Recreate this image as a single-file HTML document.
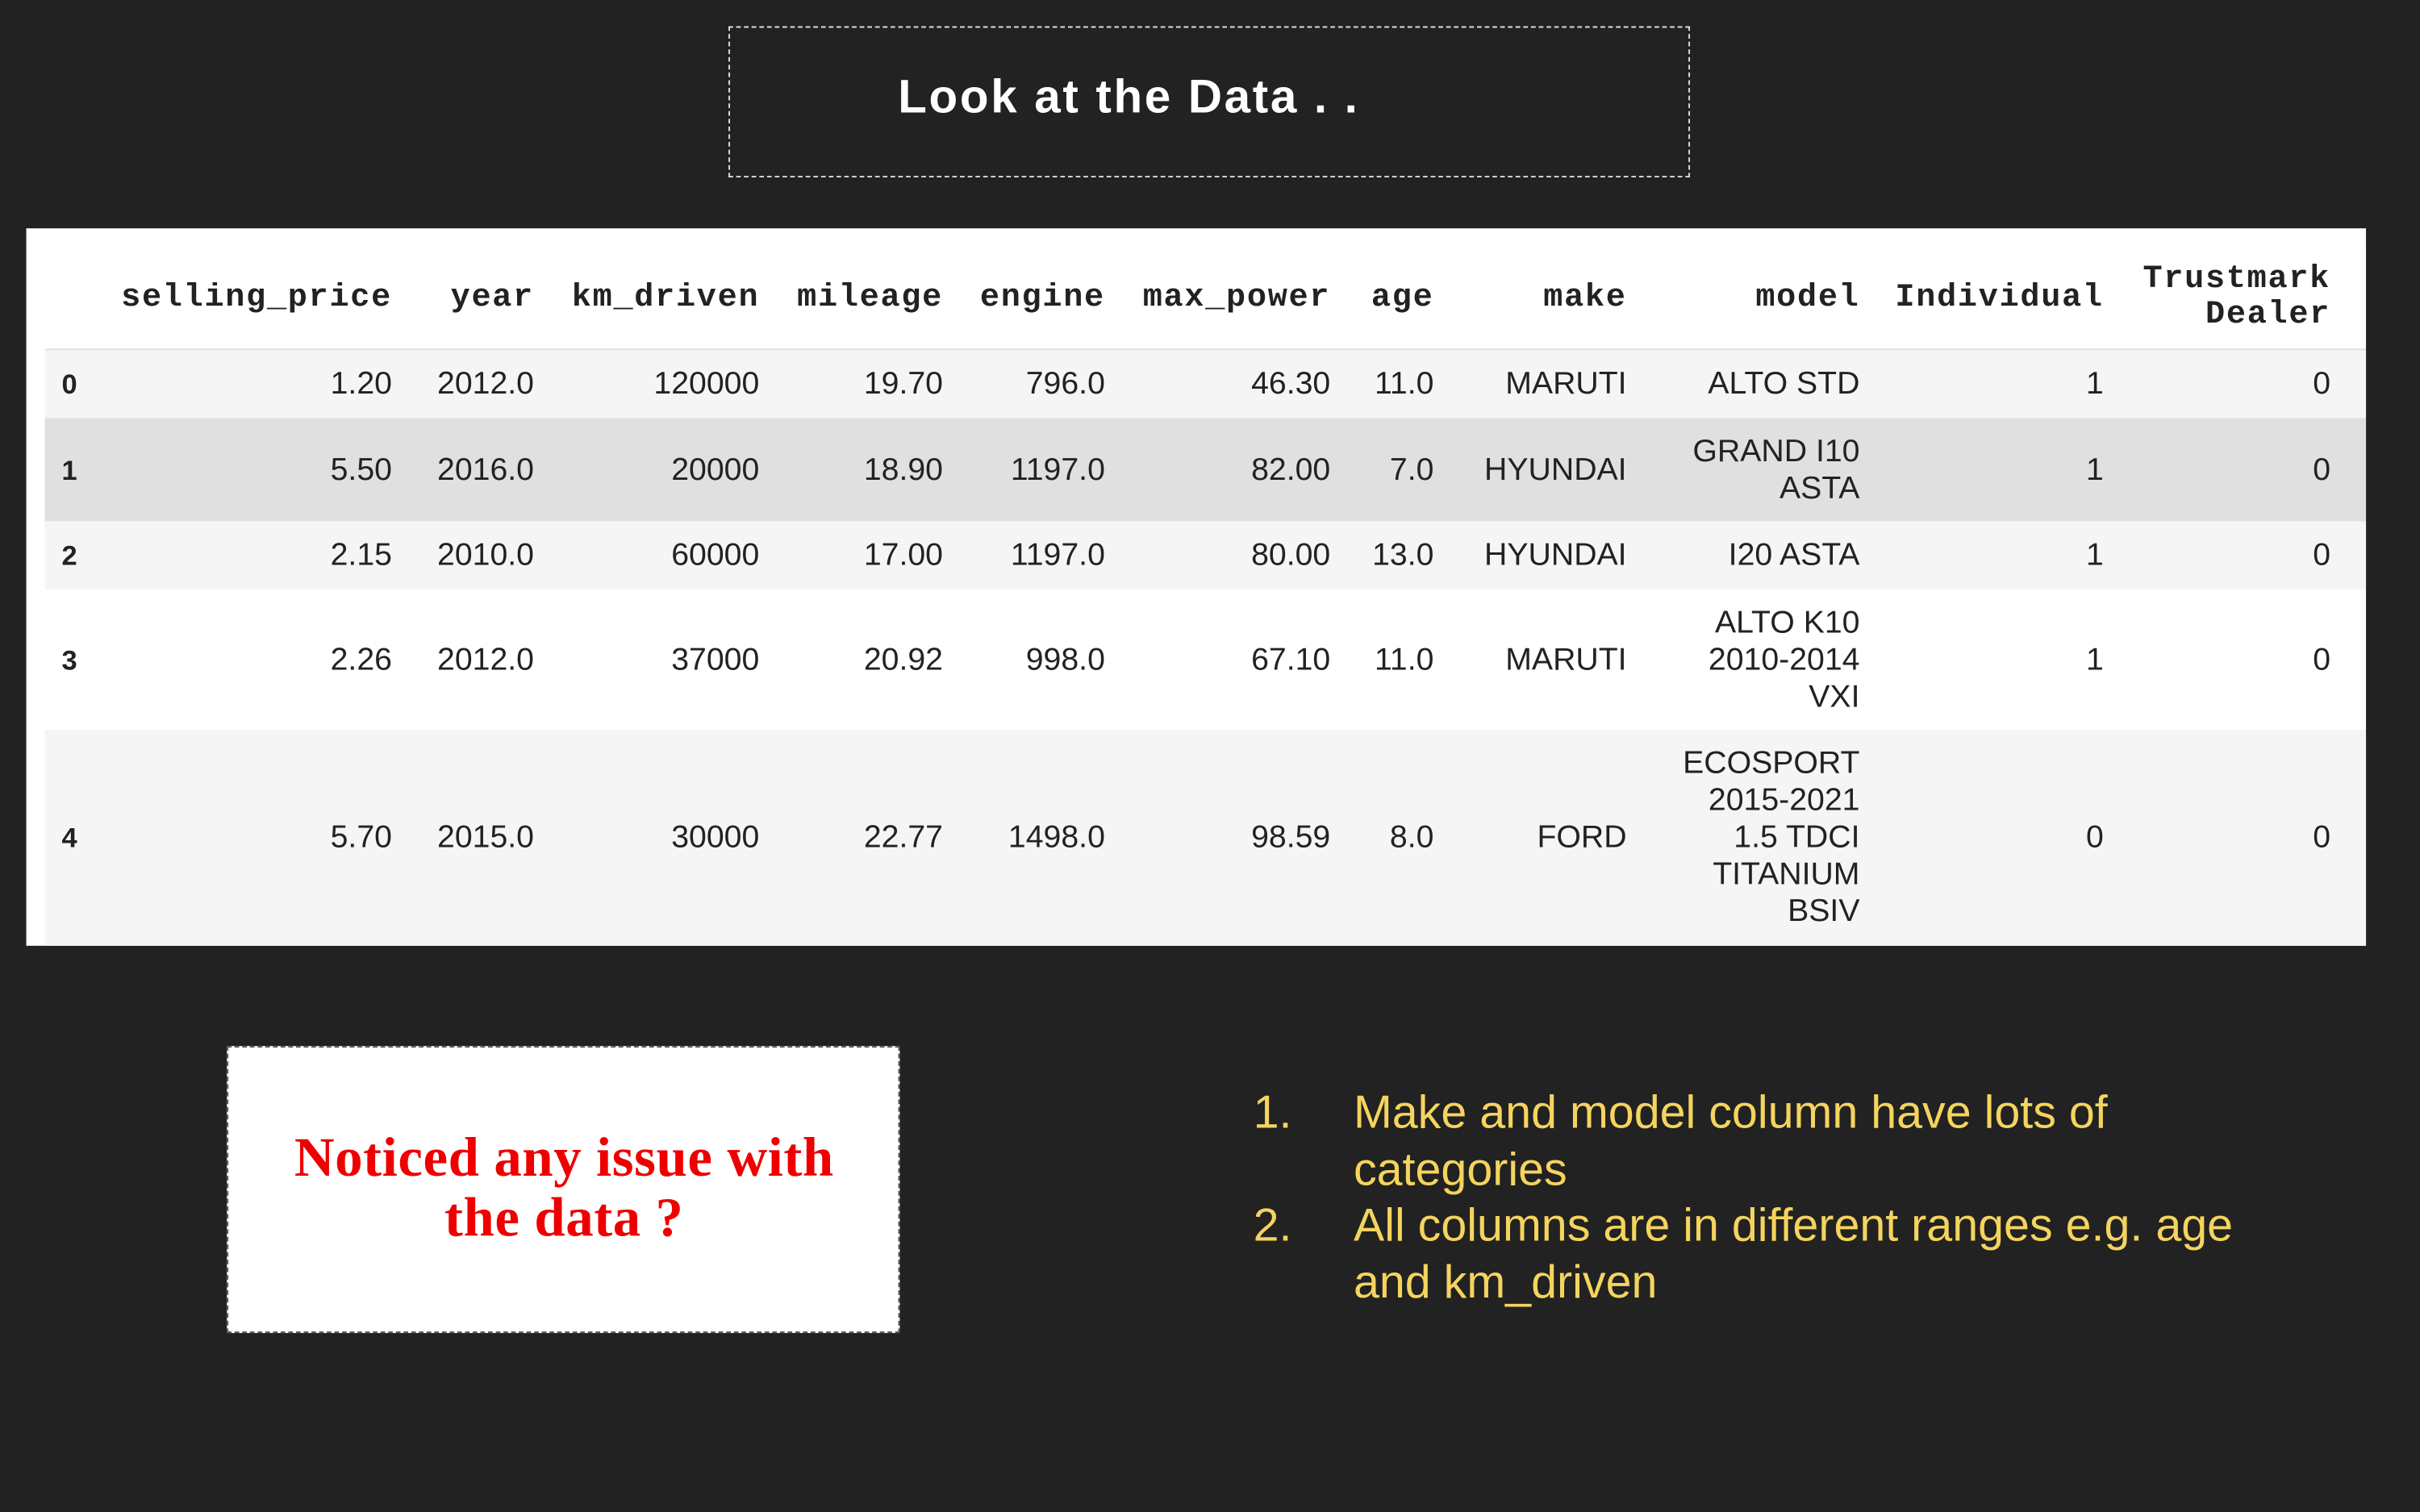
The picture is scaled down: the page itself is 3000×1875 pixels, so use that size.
<!DOCTYPE html>
<html><head><meta charset="utf-8"><style>
html,body{margin:0;padding:0;background:#222;}
#root{position:absolute;left:0;top:0;width:1568px;height:980px;background:#222;transform:scale(1.91327);transform-origin:0 0;overflow:hidden;font-family:"Liberation Sans",sans-serif;}
.abs{position:absolute;}
.row{position:absolute;left:29px;width:1504px;}
.c{position:absolute;top:0;height:100%;display:flex;align-items:center;justify-content:flex-end;text-align:right;font-size:20.5px;color:#222;line-height:24px;}
.h{font-family:"Liberation Mono",monospace;font-weight:bold;font-size:21px;letter-spacing:0.9px;line-height:23px;margin-right:-1px;}
.idx{justify-content:flex-start;font-weight:bold;font-size:18px;}
</style></head><body>
<div id="root">
<div class="abs" style="left:472px;top:17px;width:621px;height:96px;border:1.5px dashed #ddd;"></div>
<div class="abs" style="left:472px;top:46px;width:409px;text-align:right;color:#fff;font-weight:bold;font-size:30.5px;letter-spacing:1.4px;">Look at the Data . .</div>

<div class="abs" style="left:17px;top:148px;width:1516px;height:465px;background:#fff;">
</div>

<div class="abs" style="left:147px;top:678px;width:434px;height:184px;background:#fff;border:1.5px dashed #555;"></div>
<div class="abs" style="left:147px;top:731px;width:437px;text-align:center;color:#e00;font-family:'Liberation Serif',serif;font-weight:bold;font-size:36px;letter-spacing:0.3px;line-height:39px;">Noticed any issue with<br>the data ?</div>

<div class="abs" style="left:812px;top:704px;color:#f5d45e;font-size:30px;line-height:36.5px;">
<div style="position:relative;padding-left:65px;width:600px;"><span style="position:absolute;left:0;">1.</span>Make and model column have lots of categories</div>
<div style="position:relative;padding-left:65px;width:600px;"><span style="position:absolute;left:0;">2.</span>All columns are in different ranges e.g. age and km_driven</div>
</div>
</div>
<script>
const edges=[[60,254],[254,346],[346,492],[492,611],[611,716],[716,862],[862,929],[929,1054],[1054,1205],[1205,1363],[1363,1510]];
const headers=["selling_price","year","km_driven","mileage","engine","max_power","age","make","model","Individual","Trustmark<br>Dealer"];
const rows=[
["1.20","2012.0","120000","19.70","796.0","46.30","11.0","MARUTI","ALTO STD","1","0"],
["5.50","2016.0","20000","18.90","1197.0","82.00","7.0","HYUNDAI","GRAND I10<br>ASTA","1","0"],
["2.15","2010.0","60000","17.00","1197.0","80.00","13.0","HYUNDAI","I20 ASTA","1","0"],
["2.26","2012.0","37000","20.92","998.0","67.10","11.0","MARUTI","ALTO K10<br>2010-2014<br>VXI","1","0"],
["5.70","2015.0","30000","22.77","1498.0","98.59","8.0","FORD","ECOSPORT<br>2015-2021<br>1.5 TDCI<br>TITANIUM<br>BSIV","0","0"]];
const rowTops=[227,271,338,382,473,613];
const rowBg=["#f5f5f5","#e0e0e0","#f5f5f5","#ffffff","#f5f5f5"];
const root=document.getElementById('root');
function mk(top,h,bg,cells,isHead,idx){
 const r=document.createElement('div');r.className='row';
 
 
 r.style.top=top+'px';r.style.height=h+'px';r.style.background=bg;
 if(isHead)r.style.borderBottom='1px solid #ddd';
 if(!isHead){const d=document.createElement('div');d.className='c idx';d.style.left='11px';d.style.width='30px';d.innerHTML=idx;
 
 
 r.appendChild(d);}
 cells.forEach((t,i)=>{const d=document.createElement('div');d.className='c'+(isHead?' h':'');
 d.style.left=(edges[i][0]-29)+'px';d.style.width=(edges[i][1]-edges[i][0])+'px';d.innerHTML=t;
 
 
 r.appendChild(d);});
 root.appendChild(r);
}
mk(160,66,'#fff',headers,true);
rows.forEach((rw,i)=>mk(rowTops[i],rowTops[i+1]-rowTops[i],rowBg[i],rw,false,i));
</script>
</body></html>
